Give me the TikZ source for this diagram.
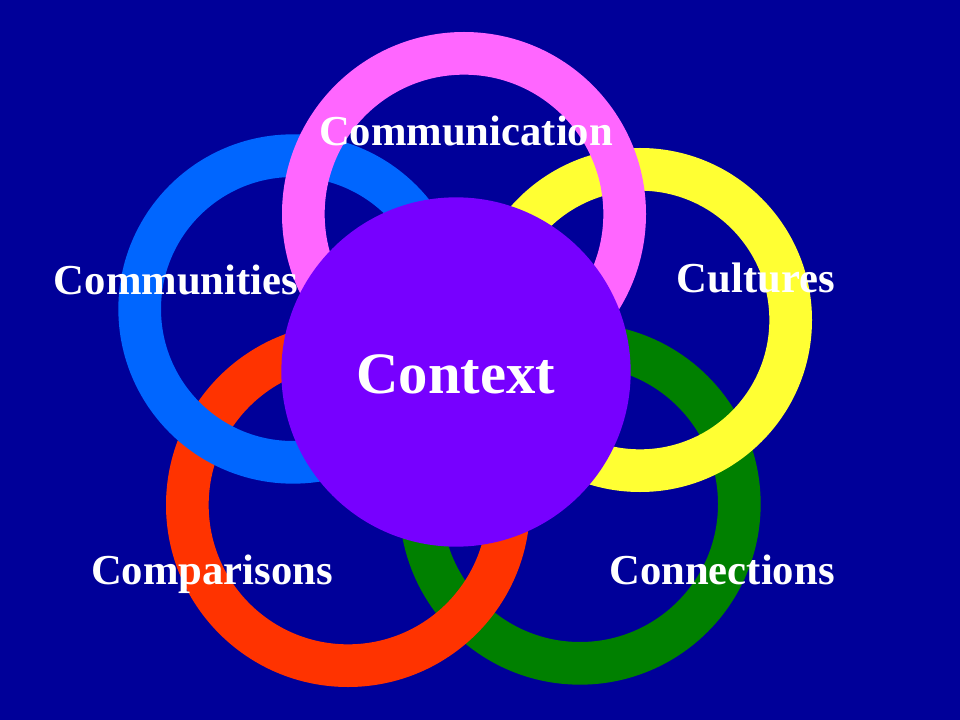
\documentclass[tikz,border=0pt]{standalone}
\usepackage{fontspec}
\setmainfont{Liberation Serif}
\usepackage{tikz}
\usetikzlibrary{positioning}
\definecolor{bgblue}{RGB}{0,0,153}
\definecolor{ringpink}{RGB}{255,102,255}
\definecolor{ringblue}{RGB}{0,102,255}
\definecolor{ringyellow}{RGB}{255,255,51}
\definecolor{ringred}{RGB}{255,51,0}
\definecolor{ringgreen}{RGB}{0,128,0}
\definecolor{ctxpurple}{RGB}{119,0,255}

\begin{document}
\begin{tikzpicture}[x=0.75pt, y=-0.75pt,
  ring/.style={circle, draw, line width=32pt, inner sep=0pt},
  lbl/.style={anchor=base, text=white, font=\fontsize{32}{36}\selectfont\bfseries}]
  % background
  \fill[bgblue] (0,0) rectangle (960,720);
  \useasboundingbox (0,0) rectangle (960,720);

  % rings, back to front
  \node[ring, draw=ringgreen,  minimum size=239pt] (connring) at (580,504) {};
  \node[ring, draw=ringred,    minimum size=241pt] (compring) at (348,505) {};
  \node[ring, draw=ringblue,   minimum size=230pt] (commuring) at (293,309) {};
  \node[ring, draw=ringyellow, minimum size=226pt] (cultring) at (640,320) {};
  \node[ring, draw=ringpink,   minimum size=241pt] (commring) at (464,214) {};

  % centre disc
  \node[circle, fill=ctxpurple, inner sep=0pt, minimum size=262pt] (ctx) at (456,372) {};

  % labels
  \node[lbl] (commtxt)  at (466,146) {Communication};
  \node[lbl] (commutxt) at (176,295) {Communities};
  \node[lbl] (culttxt)  at (756,292) {Cultures};
  \node[lbl] (comptxt)  at (212,584) {Comparisons};
  \node[lbl] (conntxt)  at (722,584) {Connections};
  \node[lbl, font=\fontsize{44}{50}\selectfont\bfseries] (ctxtxt) at (456,393) {Context};
\end{tikzpicture}
\end{document}
